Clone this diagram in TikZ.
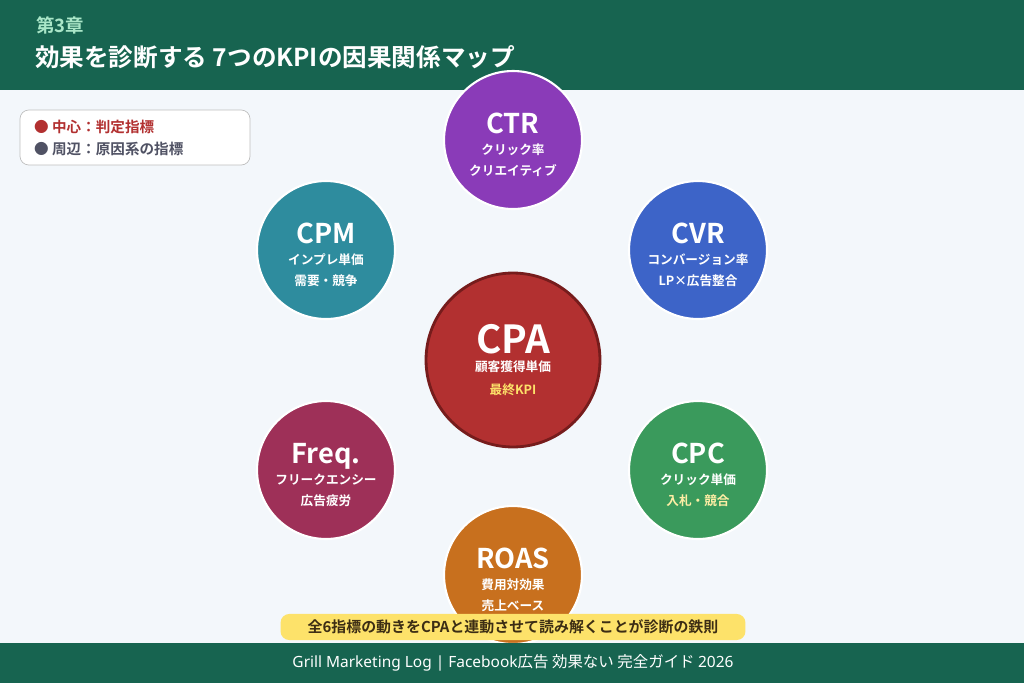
\documentclass[tikz,border=0pt]{standalone}
\usepackage{fontspec}
\setmainfont{Noto Sans CJK JP}[BoldFont={Noto Sans CJK JP Bold}]
\newfontfamily\latinsans{Noto Sans}
\usetikzlibrary{backgrounds}
\definecolor{hdrgreen}{RGB}{23,100,80}
\definecolor{bgpale}{RGB}{243,247,251}
\definecolor{cpared}{RGB}{178,48,48}
\definecolor{cpaedge}{RGB}{118,28,28}
\definecolor{ctrpurple}{RGB}{138,59,184}
\definecolor{cvrblue}{RGB}{61,100,200}
\definecolor{cpcgreen}{RGB}{58,154,92}
\definecolor{roasorange}{RGB}{200,112,30}
\definecolor{freqberry}{RGB}{158,48,88}
\definecolor{cpmteal}{RGB}{46,140,158}
\definecolor{linkgray}{RGB}{176,184,196}
\definecolor{bannerylw}{RGB}{253,226,106}
\definecolor{legendgray}{RGB}{80,82,100}
\newcommand{\kpihead}[1]{{\fontsize{15.5}{17}\selectfont\rule{0pt}{17pt}#1}}
\newcommand{\kpisub}[1]{{\fontsize{7.2}{10.8}\selectfont #1}}
\begin{document}
\begin{tikzpicture}[x=0.02cm,y=-0.02cm]
\tikzset{
	kpi/.style={circle, draw=white, line width=1.2pt, minimum size=2.76cm,
		inner sep=0pt, text=white, align=center, font=\bfseries},
	hub/.style={circle, draw=cpaedge, line width=1.6pt, minimum size=3.48cm,
		fill=cpared, inner sep=0pt, text=white, align=center, font=\bfseries},
	link/.style={draw=linkgray, line width=0.8pt}
}
\fill[bgpale] (0,0) rectangle (1024,683);
\fill[hdrgreen] (0,0) rectangle (1024,90);
\node[anchor=west, text={rgb,255:red,170;green,230;blue,200}, font=\bfseries\fontsize{10.5}{12}\selectfont] (chap) at (30,25) {第3章};
\node[anchor=west, text=white, font=\bfseries\fontsize{14}{16}\selectfont] (title) at (29,57) {効果を診断する 7つのKPIの因果関係マップ};

% legend
\draw[draw=gray!50, fill=white, rounded corners=5pt] (20,110) rectangle (250,165);
\node[anchor=west, text=cpared, font=\bfseries\fontsize{8.3}{9}\selectfont] (leg1) at (28,127) {● 中心：判定指標};
\node[anchor=west, text=legendgray, font=\bfseries\fontsize{8.3}{9}\selectfont] (leg2) at (28,149) {● 周辺：原因系の指標};

% nodes
\node[hub] (cpa) at (513,360) {{\fontsize{22}{24}\selectfont CPA}\\[-2pt]
	{\fontsize{7.2}{9}\selectfont 顧客獲得単価}\\[1pt]
	{\fontsize{7.2}{9}\selectfont\textcolor{bannerylw}{最終KPI}}};
\node[kpi, fill=ctrpurple] (ctr) at (513,140) {\kpihead{CTR}\\\kpisub{クリック率}\\\kpisub{クリエイティブ}};
\node[kpi, fill=cvrblue] (cvr) at (698,250) {\kpihead{CVR}\\\kpisub{コンバージョン率}\\\kpisub{LP×広告整合}};
\node[kpi, fill=cpcgreen] (cpc) at (698,470) {\kpihead{CPC}\\\kpisub{クリック単価}\\\kpisub{\textcolor{bannerylw!60!white}{入札・競合}}};
\node[kpi, fill=roasorange] (roas) at (513,575) {\kpihead{ROAS}\\\kpisub{費用対効果}\\\kpisub{売上ベース}};
\node[kpi, fill=freqberry] (freq) at (326,470) {\kpihead{Freq.}\\\kpisub{フリークエンシー}\\\kpisub{広告疲労}};
\node[kpi, fill=cpmteal] (cpm) at (326,250) {\kpihead{CPM}\\\kpisub{インプレ単価}\\\kpisub{需要・競争}};

\begin{scope}[on background layer]
\foreach \k in {ctr,cvr,cpc,roas,freq,cpm}
	\draw[link] (cpa) -- (\k);
\end{scope}

% banner and footer
\fill[hdrgreen] (0,643) rectangle (1024,683);
\node[fill=bannerylw, rounded corners=5pt, minimum width=9.3cm, minimum height=0.48cm,
	text={rgb,255:red,60;green,45;blue,20}, font=\bfseries\fontsize{8.5}{9}\selectfont] (banner) at (513,627)
	{全6指標の動きをCPAと連動させて読み解くことが診断の鉄則};
\node[text=white, font=\fontsize{8.8}{10}\selectfont] (footer) at (513,663)
	{\latinsans Grill Marketing Log | Facebook\normalfont 広告 効果ない 完全ガイド \latinsans 2026};
\end{tikzpicture}
\end{document}
